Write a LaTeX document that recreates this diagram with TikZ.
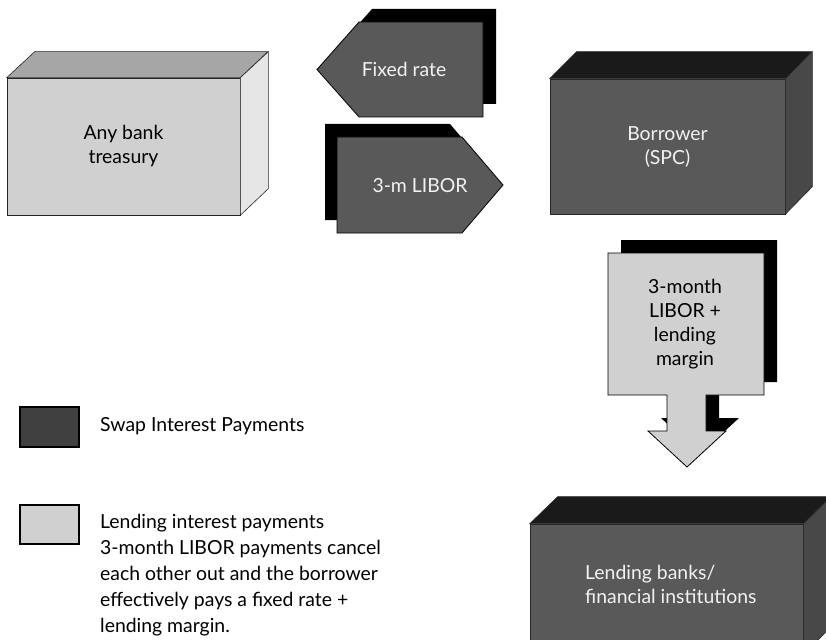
\documentclass[tikz,border=0pt]{standalone}
\usepackage{fontspec}
\setmainfont{Lato}
\definecolor{lightFront}{HTML}{D0D0D0}
\definecolor{lightTop}{HTML}{A6A6A6}
\definecolor{lightSide}{HTML}{E6E6E6}
\definecolor{darkFront}{HTML}{595959}
\definecolor{darkTop}{HTML}{1A1A1A}
\definecolor{darkSide}{HTML}{484848}
\definecolor{keyDark}{HTML}{404040}
\definecolor{paleText}{HTML}{F2F2F2}
\tikzset{
  edge/.style={draw=black!85, line width=0.6pt, line join=miter},
  boxfront/.style={edge, inner sep=0pt, align=center,
    font=\fontsize{19.4}{24}\selectfont},
  arrowbody/.style={draw=black, line width=0.8pt, line join=miter},
  shadowbody/.style={fill=black},
  lbl/.style={inner sep=0pt, align=center, font=\fontsize{19.4}{24}\selectfont},
  keybox/.style={draw=black, line width=1.2pt, inner sep=0pt,
    minimum width=59pt, minimum height=40pt},
  keytext/.style={inner sep=0pt, align=left, font=\fontsize{19.4}{26}\selectfont}
}
\begin{document}
\begin{tikzpicture}[x=1pt,y=-1pt]
\useasboundingbox (0,0) rectangle (826,639);
\clip (0,0) rectangle (826,639);

% --- bank treasury block (light)
\node[boxfront, fill=lightFront, minimum width=233pt, minimum height=137pt]
  (bank) at (123.5,146.5) {Any bank\\treasury};
\filldraw[edge, fill=lightTop] (bank.north west) -- ++(28,-26) -- ++(233,0)
  -- (bank.north east) -- cycle;
\filldraw[edge, fill=lightSide] (bank.north east) -- ++(28,-26) -- ++(0,137)
  -- (bank.south east) -- cycle;

% --- borrower block (dark)
\node[boxfront, fill=darkFront, text=paleText, minimum width=235pt, minimum height=135pt]
  (borrower) at (667.5,146.5) {Borrower\\(SPC)};
\filldraw[edge, fill=darkTop] (borrower.north west) -- ++(27,-27) -- ++(235,0)
  -- (borrower.north east) -- cycle;
\filldraw[edge, fill=darkSide] (borrower.north east) -- ++(27,-27) -- ++(0,135)
  -- (borrower.south east) -- cycle;

% --- lending banks block (dark, runs past the lower edge)
\node[boxfront, fill=darkFront, minimum width=273pt, minimum height=130pt]
  (lenders) at (666.5,589) {};
\filldraw[edge, fill=darkTop] (lenders.north west) -- ++(28,-27) -- ++(273,0)
  -- (lenders.north east) -- cycle;
\filldraw[edge, fill=darkSide] (lenders.north east) -- ++(28,-27) -- ++(0,130)
  -- (lenders.south east) -- cycle;
\node[lbl, align=left, text=paleText, anchor=west] (lendersT) at (585,584)
  {Lending banks/\\financial institutions};

% --- fixed rate arrow, pointing left
\fill[shadowbody, shift={(13,-13)}] (317,69.5) -- (359,22) -- (483,22)
  -- (483,117) -- (359,117) -- cycle;
\filldraw[arrowbody, fill=darkFront] (317,69.5) -- (359,22) -- (483,22)
  -- (483,117) -- (359,117) -- cycle;
\node[lbl, text=paleText] (fixedT) at (404,69) {Fixed rate};

% --- 3-m LIBOR arrow, pointing right
\fill[shadowbody, shift={(-12,-13)}] (337,137) -- (462,137) -- (503,185)
  -- (462,233) -- (337,233) -- cycle;
\filldraw[arrowbody, fill=darkFront] (337,137) -- (462,137) -- (503,185)
  -- (462,233) -- (337,233) -- cycle;
\node[lbl, text=paleText] (liborT) at (420,186) {3-m LIBOR};

% --- lending payments arrow, pointing down
\fill[shadowbody, shift={(13,-13)}] (608,253) -- (764,253) -- (764,395)
  -- (706,395) -- (706,431) -- (726,431) -- (687,467) -- (648,431)
  -- (667,431) -- (667,395) -- (608,395) -- cycle;
\filldraw[arrowbody, fill=lightFront] (608,253) -- (764,253) -- (764,395)
  -- (706,395) -- (706,431) -- (726,431) -- (687,467) -- (648,431)
  -- (667,431) -- (667,395) -- (608,395) -- cycle;
\node[lbl] (marginT) at (685,324.5) {3-month\\LIBOR +\\lending\\margin};

% --- key
\node[keybox, fill=keyDark] (swapKey) at (49.5,427) {};
\node[keytext, anchor=west] (swapKeyT) at (100,426) {Swap Interest Payments};
\node[keybox, fill=lightFront, minimum height=39pt] (lendKey) at (49.5,524.5) {};
\node[keytext, anchor=west] (lendKeyT) at (100,575)
  {Lending interest payments\\3-month LIBOR payments cancel\\each other out and the borrower\\effectively pays a fixed rate +\\lending margin.};
\end{tikzpicture}
\end{document}
